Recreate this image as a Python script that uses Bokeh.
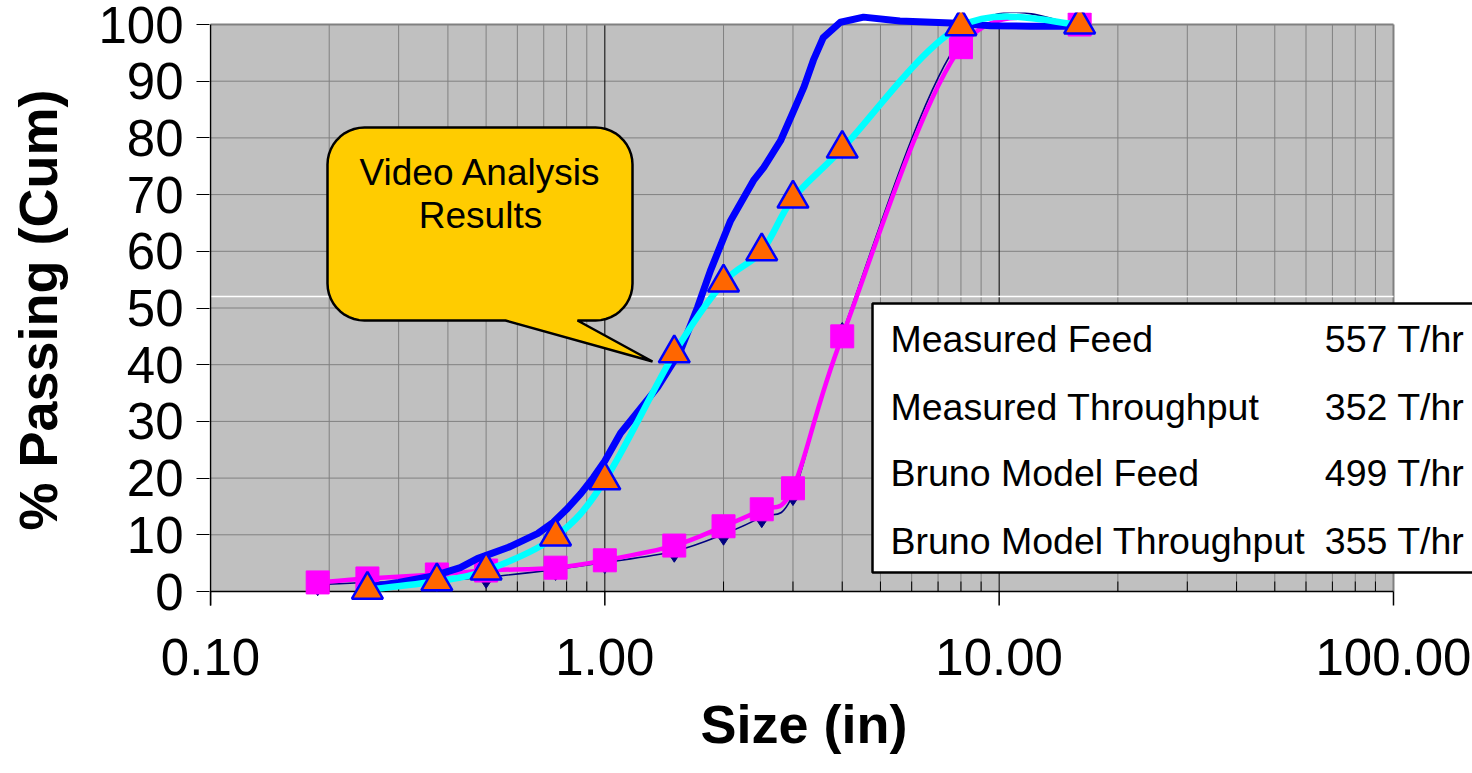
import numpy as np
from bokeh.plotting import figure
from bokeh.models import Range1d, FixedTicker, Title, NumeralTickFormatter
from bokeh.core.properties import value
from bokeh.embed import file_html
from bokeh.resources import INLINE

# ---------------- data ----------------
sieve_sizes = [0.187, 0.25, 0.375, 0.5, 0.75, 1.0, 1.5, 2.0, 2.5, 3.0, 4.0, 8.0, 16.0]
bruno_feed_pass = [1.2, 1.6, 1.9, 2.5, 3.9, 5.1, 7.1, 10.1, 13.2, 17.1, 45.5, 97.5, 100.0]
bruno_thru_pass = [1.6, 2.3, 3.0, 3.7, 4.2, 5.5, 8.1, 11.5, 14.5, 18.2, 45.0, 96.0, 100.0]

video_sizes = [0.25, 0.375, 0.5, 0.75, 1.0, 1.5, 2.0, 2.5, 3.0, 4.0, 8.0, 16.0]
video_pass = [0.3, 1.8, 3.7, 9.7, 19.6, 42.0, 54.5, 60.0, 69.3, 78.1, 99.7, 100.0]

meas_sizes = [0.25, 0.30, 0.37, 0.43, 0.475, 0.57, 0.675, 0.74, 0.80, 0.87, 0.935, 1.0,
              1.096, 1.2, 1.36, 1.556, 1.718, 1.853, 2.084, 2.383, 2.53, 2.79, 3.0, 3.2,
              3.38, 3.58, 3.96, 4.53, 5.6, 7.84, 9.5, 12.0, 16.0]
meas_pass = [0.8, 1.6, 2.8, 4.2, 5.8, 7.8, 10.2, 12.2, 14.5, 17.3, 20.1, 23.0,
             27.9, 31.3, 36.0, 42.5, 50.1, 56.6, 65.4, 72.5, 74.8, 79.5, 84.5, 89.0,
             93.7, 97.7, 100.4, 101.3, 100.6, 100.2, 99.8, 99.7, 99.7]

x_ticks = [0.1, 1.0, 10.0, 100.0]
x_tick_labels = ["0.10", "1.00", "10.00", "100.00"]
x_minor = [m * d for d in (0.1, 1.0, 10.0) for m in range(2, 10)]
y_ticks = [0, 10, 20, 30, 40, 50, 60, 70, 80, 90, 100]

box_names = ["Measured Feed", "Measured Throughput", "Bruno Model Feed", "Bruno Model Throughput"]
box_rates = ["557 T/hr", "352 T/hr", "499 T/hr", "355 T/hr"]
callout_lines = ["Video Analysis", "Results"]

FONT = "Liberation Sans"

# -------- pixel -> data helpers for annotation placement --------
DEC = 394.33   # px per decade
X0 = 210.0     # px of x = 0.1
Y0 = 591.0     # px of y = 0
YS = 5.67      # px per % unit


def dx(px):
    return 10 ** ((px - X0) / DEC - 1)


def dy(py):
    return (Y0 - py) / YS


def smooth(xs, ys):
    u = np.log10(np.asarray(xs, float))
    v = np.asarray(ys, float)
    P = np.column_stack([u, v])
    prev = np.vstack([P[0], P[:-1]])
    nxt = np.vstack([P[1:], P[-1]])
    T = (nxt - prev) / 6.0
    c0 = P[:-1] + T[:-1]
    c1 = P[1:] - T[1:]
    return dict(x0=10 ** P[:-1, 0], y0=P[:-1, 1], x1=10 ** P[1:, 0], y1=P[1:, 1],
                cx0=10 ** c0[:, 0], cy0=c0[:, 1], cx1=10 ** c1[:, 0], cy1=c1[:, 1])


p = figure(width=1472, height=773, x_axis_type="log",
           x_range=Range1d(dx(209), dx(1472)), y_range=Range1d(dy(607), dy(12)),
           output_backend="svg", toolbar_location=None,
           min_border_left=209, min_border_right=0, min_border_top=12, min_border_bottom=166)
p.outline_line_color = None
p.xgrid.visible = False
p.ygrid.visible = False
p.background_fill_color = "white"
p.border_fill_color = "white"

xl, xr = x_ticks[0], x_ticks[-1]
yb, yt = y_ticks[0], y_ticks[-1]

# plot area
p.quad(left=[xl], right=[xr], bottom=[yb], top=[yt], fill_color="#C0C0C0", line_color=None)
# gridlines
p.segment(x0=x_minor, y0=[yb] * len(x_minor), x1=x_minor, y1=[yt] * len(x_minor),
          line_color="#808080", line_width=1)
hy = y_ticks[1:-1]
p.segment(x0=[xl] * len(hy), y0=hy, x1=[xr] * len(hy), y1=hy, line_color="#808080", line_width=1)
mid = x_ticks[1:-1]
p.segment(x0=mid, y0=[yb] * len(mid), x1=mid, y1=[yt] * len(mid), line_color="black", line_width=1)
# border top / right
p.segment(x0=[xl, xr], y0=[yt, yb], x1=[xr, xr], y1=[yt, yt], line_color="#808080", line_width=2)
# stray white line
p.segment(x0=[xl], y0=[dy(296)], x1=[xr], y1=[dy(296)], line_color="white", line_width=1.3)

# axes lines and ticks
p.segment(x0=[xl], y0=[yb], x1=[xr], y1=[yb], line_color="black", line_width=1.5)
p.segment(x0=[xl], y0=[dy(605)], x1=[xl], y1=[yt], line_color="black", line_width=1.5)
p.segment(x0=x_ticks, y0=[yb] * 4, x1=x_ticks, y1=[dy(605)] * 4, line_color="black", line_width=1.5)
p.segment(x0=x_minor, y0=[yb] * len(x_minor), x1=x_minor, y1=[dy(581)] * len(x_minor),
          line_color="black", line_width=1)

# ---- series ----
# Bruno model feed (navy diamonds)
p.bezier(**smooth(sieve_sizes, bruno_feed_pass), line_color="#000080", line_width=1.6, line_cap="round")
p.scatter(sieve_sizes, bruno_feed_pass, marker="diamond", size=22, fill_color="#000080", line_color="#000080")
# Bruno model throughput (magenta squares)
p.bezier(**smooth(sieve_sizes, bruno_thru_pass), line_color="#FF00FF", line_width=4.5, line_cap="round")
p.scatter(sieve_sizes, bruno_thru_pass, marker="square", size=23, fill_color="#FF00FF", line_color="#FF00FF")
# measured (thick blue)
p.line(meas_sizes, meas_pass, line_color="#0000FF", line_width=7, line_join="round", line_cap="round")
# video analysis (cyan + triangles)
p.bezier(**smooth(video_sizes, video_pass), line_color="#00FFFF", line_width=6.5, line_cap="round")
p.scatter(video_sizes, video_pass, marker="triangle", size=31, fill_color="#FF6600",
          line_color="#0000FF", line_width=2.5)


# ---- callout ----
def callout(l, t, r, b, rad, base_l, base_r, tip):
    pts = []

    def arc(cx, cy, a0, a1):
        for a in np.linspace(a0, a1, 12):
            pts.append((cx + rad * np.cos(a), cy + rad * np.sin(a)))

    arc(l + rad, t + rad, np.pi, 1.5 * np.pi)
    arc(r - rad, t + rad, 1.5 * np.pi, 2 * np.pi)
    arc(r - rad, b - rad, 0.0, 0.5 * np.pi)
    pts += [(base_r, b), tip, (base_l, b)]
    arc(l + rad, b - rad, 0.5 * np.pi, np.pi)
    return [dx(a) for a, _ in pts], [dy(c) for _, c in pts]


cx, cy = callout(327, 127, 632, 320, 37, 505, 577, (652, 361))
p.patch(cx, cy, fill_color="#FFCC00", line_color="black", line_width=2.5)
p.text(x=[dx(480)] * 2, y=[dy(172), dy(215)], text=callout_lines,
       text_font=value(FONT), text_font_size=value("37px"), text_color="black",
       text_align="center", text_baseline="middle")

# ---- rate box ----
p.quad(left=[dx(872)], right=[dx(1520)], top=[dy(303)], bottom=[dy(572)],
       fill_color="white", line_color="black", line_width=2.5)
rows = [dy(338), dy(406), dy(472), dy(540)]
p.text(x=[dx(890)] * 4, y=rows, text=box_names, text_font=value(FONT),
       text_font_size=value("37.5px"), text_color="black", text_align="left", text_baseline="middle")
p.text(x=[dx(1464)] * 4, y=rows, text=box_rates, text_font=value(FONT),
       text_font_size=value("37.5px"), text_color="black", text_align="right", text_baseline="middle")

# ---- axes ----
p.yaxis.ticker = FixedTicker(ticks=y_ticks, minor_ticks=[])
p.yaxis.axis_line_color = None
p.yaxis.major_tick_out = 13
p.yaxis.major_tick_in = 0
p.yaxis.major_tick_line_color = "black"
p.yaxis.minor_tick_line_color = None
p.yaxis.major_label_text_font = FONT
p.yaxis.major_label_text_font_size = "51px"
p.yaxis.major_label_text_color = "black"
p.yaxis.major_label_standoff = 13
p.yaxis.axis_label = "% Passing (Cum)"
p.yaxis.axis_label_text_font = FONT
p.yaxis.axis_label_text_font_size = "54px"
p.yaxis.axis_label_text_font_style = "bold"
p.yaxis.axis_label_text_color = "black"
p.yaxis.axis_label_standoff = 27

p.xaxis.ticker = FixedTicker(ticks=x_ticks, minor_ticks=[])
p.xaxis.formatter = NumeralTickFormatter(format="0.00")
p.xaxis.major_label_overrides = dict(zip(x_ticks, x_tick_labels))
p.xaxis.axis_line_color = None
p.xaxis.major_tick_out = 0
p.xaxis.major_tick_in = 0
p.xaxis.minor_tick_line_color = None
p.xaxis.major_label_text_font = FONT
p.xaxis.major_label_text_font_size = "51px"
p.xaxis.major_label_text_color = "black"
p.xaxis.major_label_standoff = 31

p.add_layout(Title(text="Size (in)", align="left", offset=491, text_font=FONT,
                   text_font_size="54px", text_font_style="bold", text_color="black",
                   standoff=29), "below")

open("out.html", "w").write(file_html(p, INLINE))
